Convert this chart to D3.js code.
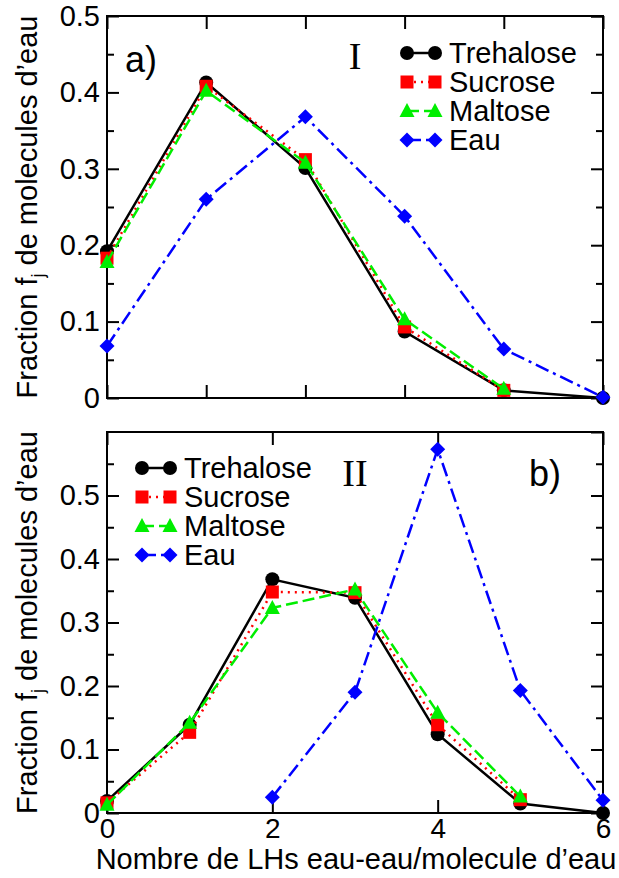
<!DOCTYPE html>
<html>
<head>
<meta charset="utf-8">
<script src="https://cdn.jsdelivr.net/npm/d3@7"></script>
<style>
  body { margin: 0; background: #fff; }
  svg { display: block; }
  text { font-family: "Liberation Sans", Arial, Helvetica, sans-serif; fill: #000; }
</style>
</head>
<body>
<script>
// panel a) : x = 0..5
var xA = [0, 1, 2, 3, 4, 5];
var treA = [0.192, 0.413, 0.301, 0.087, 0.010, 0.0];
var sucA = [0.183, 0.408, 0.312, 0.093, 0.010];
var malA = [0.178, 0.402, 0.308, 0.103, 0.012];
var eauA = [0.068, 0.260, 0.368, 0.238, 0.064, 0.001];

// panel b) : x = 0..6
var xB = [0, 1, 2, 3, 4, 5, 6];
var treB = [0.019, 0.139, 0.368, 0.339, 0.124, 0.015, 0.0];
var sucB = [0.016, 0.127, 0.348, 0.347, 0.139, 0.021];
var malB = [0.013, 0.142, 0.323, 0.352, 0.158, 0.026];
var xEauB = [2, 3, 4, 5, 6];
var eauB = [0.025, 0.190, 0.573, 0.193, 0.020];

var yTicksA = [0, 0.1, 0.2, 0.3, 0.4, 0.5];
var yTicksB = [0, 0.1, 0.2, 0.3, 0.4, 0.5];
var xTicksB = [0, 2, 4, 6];
var names = ["Trehalose", "Sucrose", "Maltose", "Eau"];

var W = 619, H = 878;
var svg = d3.select("body").append("svg").attr("width", W).attr("height", H);

// series styles
var styles = {
  Trehalose: {color: "#000000", dash: null, marker: "circle"},
  Sucrose:   {color: "#ff0000", dash: "2,5", marker: "square"},
  Maltose:   {color: "#00ee00", dash: "12,5", marker: "triangle"},
  Eau:       {color: "#0000ff", dash: "14,5,3,5", marker: "diamond"}
};

var place_marker = function(g, type, x, y, color) {
  if (type == "circle") {
    g.append("circle").attr("cx", x).attr("cy", y).attr("r", 7).attr("fill", color);
  } else if (type == "square") {
    g.append("rect").attr("x", x - 6.5).attr("y", y - 6.5).attr("width", 13).attr("height", 13).attr("fill", color);
  } else if (type == "triangle") {
    g.append("path").attr("d", "M" + x + "," + (y - 8) + "L" + (x + 7.5) + "," + (y + 6) + "L" + (x - 7.5) + "," + (y + 6) + "Z").attr("fill", color);
  } else {
    g.append("path").attr("d", "M" + x + "," + (y - 7.5) + "L" + (x + 7.5) + "," + y + "L" + x + "," + (y + 7.5) + "L" + (x - 7.5) + "," + y + "Z").attr("fill", color);
  }
};

var draw_panel = function(opt) {
  var x = d3.scaleLinear().domain(opt.xdom).range([107, 603]);
  var y = d3.scaleLinear().domain(opt.ydom).range([opt.bottom, opt.top]);
  var g = svg.append("g");

  // minor y ticks
  var minor = d3.range(0.05, opt.ydom[1], 0.1);
  g.append("g").attr("transform", "translate(107,0)")
    .call(d3.axisLeft(y).tickValues(minor).tickSize(-7).tickFormat(""));
  g.append("g").attr("transform", "translate(603,0)")
    .call(d3.axisRight(y).tickValues(minor).tickSize(-7).tickFormat(""));

  // major y ticks
  g.append("g").attr("class", "yax").attr("transform", "translate(107,0)")
    .call(d3.axisLeft(y).tickValues(opt.yticks).tickSize(-12).tickPadding(7).tickFormat(function(d) { return d == 0 ? "0" : d3.format(".1f")(d); }));
  g.append("g").attr("transform", "translate(603,0)")
    .call(d3.axisRight(y).tickValues(opt.yticks.concat([opt.ydom[1]])).tickSize(-12).tickFormat(""));

  // x ticks
  g.append("g").attr("class", "xax").attr("transform", "translate(0," + opt.bottom + ")")
    .call(d3.axisBottom(x).tickValues(opt.xticks).tickSize(-13).tickPadding(5).tickFormat(opt.xlabels ? d3.format("d") : ""));
  g.append("g").attr("transform", "translate(0," + opt.top + ")")
    .call(d3.axisTop(x).tickValues(opt.xticks).tickSize(-13).tickFormat(""));

  g.selectAll(".domain").remove();
  g.selectAll(".tick line").attr("stroke", "#000").attr("stroke-width", 2);
  g.selectAll(".yax text").style("font-size", "29px").attr("font-family", null);
  g.selectAll(".xax text").style("font-size", "28px").attr("font-family", null);

  // frame
  g.append("rect").attr("x", 107).attr("y", opt.top).attr("width", 496).attr("height", opt.bottom - opt.top)
    .attr("fill", "none").attr("stroke", "#000").attr("stroke-width", 2);

  // series
  opt.series.forEach(function(s) {
    var st = styles[s.name];
    var pts = s.xs.map(function(d, i) { return [x(d), y(s.ys[i])]; });
    g.append("path").attr("d", d3.line()(pts)).attr("fill", "none")
      .attr("stroke", st.color).attr("stroke-width", 2.5)
      .attr("stroke-dasharray", st.dash);
    pts.forEach(function(p) { place_marker(g, st.marker, p[0], p[1], st.color); });
  });

  // legend
  names.forEach(function(n, i) {
    var st = styles[n];
    var cy = opt.legY + i * 29;
    g.append("line").attr("x1", opt.legX).attr("x2", opt.legX + 28).attr("y1", cy).attr("y2", cy)
      .attr("stroke", st.color).attr("stroke-width", 2.5).attr("stroke-dasharray", st.dash);
    place_marker(g, st.marker, opt.legX, cy, st.color);
    place_marker(g, st.marker, opt.legX + 28, cy, st.color);
    g.append("text").attr("x", opt.legX + 42).attr("y", cy + 10).style("font-size", "29px").text(n);
  });

  // panel letter and roman numeral
  g.append("text").attr("x", opt.letX).attr("y", opt.letY).style("font-size", "36px").text(opt.letter);
  g.append("text").attr("x", 355).attr("y", opt.romY).attr("text-anchor", "middle")
    .style("font-family", "'Liberation Serif', 'Times New Roman', serif").style("font-size", "38px").text(opt.roman);

  // y label
  var yl = g.append("text").attr("transform", "translate(37," + ((opt.top + opt.bottom) / 2) + ") rotate(-90)")
    .attr("text-anchor", "middle").style("font-size", "29px");
  yl.append("tspan").text("Fraction f");
  yl.append("tspan").attr("dy", 7).style("font-size", "18px").text("j");
  yl.append("tspan").attr("dy", -7).text(" de molecules d\u2019eau");
};

draw_panel({
  xdom: [0, 5], ydom: [0, 0.5], top: 16, bottom: 398,
  yticks: yTicksA, xticks: xA, xlabels: false,
  series: [
    {name: "Trehalose", xs: xA, ys: treA},
    {name: "Sucrose", xs: xA.slice(0, sucA.length), ys: sucA},
    {name: "Maltose", xs: xA.slice(0, malA.length), ys: malA},
    {name: "Eau", xs: xA, ys: eauA}
  ],
  legX: 407, legY: 53, letter: "a)", letX: 125, letY: 72, roman: "I", romY: 69
});

draw_panel({
  xdom: [0, 6], ydom: [0, 0.6], top: 432, bottom: 813,
  yticks: yTicksB, xticks: xTicksB, xlabels: true,
  series: [
    {name: "Trehalose", xs: xB, ys: treB},
    {name: "Sucrose", xs: xB.slice(0, sucB.length), ys: sucB},
    {name: "Maltose", xs: xB.slice(0, malB.length), ys: malB},
    {name: "Eau", xs: xEauB, ys: eauB}
  ],
  legX: 142, legY: 468, letter: "b)", letX: 529, letY: 486, roman: "II", romY: 486
});

// x label
svg.append("text").attr("x", 356).attr("y", 869).attr("text-anchor", "middle")
  .style("font-size", "29px").text("Nombre de LHs eau-eau/molecule d\u2019eau");
</script>
</body>
</html>
